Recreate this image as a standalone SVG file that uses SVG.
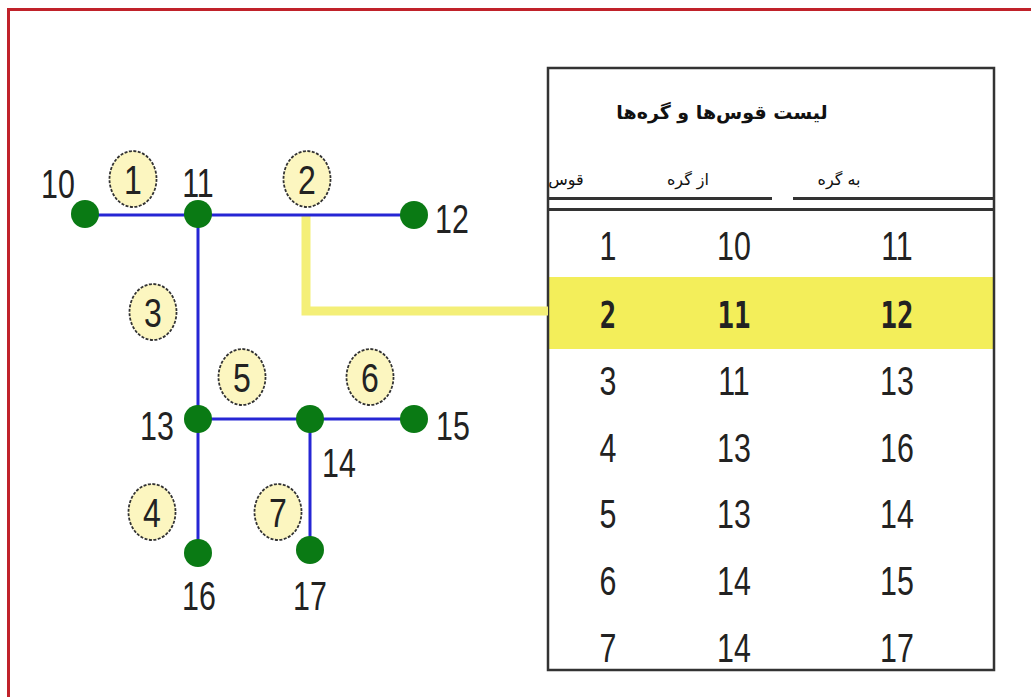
<svg xmlns="http://www.w3.org/2000/svg" width="1031" height="697" viewBox="0 0 1031 697">
<style>
.edge{stroke:#2626d4;stroke-width:3;fill:none}
.node{fill:#0a7a14}
.lbl{font-family:"Liberation Sans",Arial,sans-serif;font-size:40px;fill:#222;text-anchor:middle}
.badge{fill:#fcf6c0;stroke:#333;stroke-width:1.8;stroke-dasharray:3 1.5}
.bnum{font-family:"Liberation Sans",Arial,sans-serif;font-size:40px;fill:#222;text-anchor:middle}
.cell{font-family:"Liberation Sans",Arial,sans-serif;font-size:40px;fill:#222;text-anchor:middle}
.hl{font-family:"DejaVu Sans Mono","Liberation Mono",monospace;font-size:38px;font-weight:bold;fill:#222;text-anchor:middle}
.fa{font-family:"DejaVu Sans","Noto Sans",sans-serif;fill:#111;text-anchor:middle}
</style>
<rect width="1031" height="697" fill="#fff"/>
<path d="M8.5,697 V9.5 H1031" fill="none" stroke="#c0222a" stroke-width="3"/>

<g id="table">
<rect x="548" y="277" width="446" height="72" fill="#f3ee5a"/>
<rect x="548" y="68" width="446" height="602" fill="none" stroke="#333" stroke-width="2.5"/>
<text class="fa" x="722" y="119" font-size="19" font-weight="bold">لیست قوس‌ها و گره‌ها</text>
<text class="fa" x="566" y="185" font-size="16">قوس</text>
<text class="fa" x="688" y="185" font-size="16">از گره</text>
<text class="fa" x="839" y="185" font-size="16">به گره</text>
<path d="M548,198.5 H772 M793,198.5 H994 M548,209.5 H994" stroke="#333" stroke-width="3" fill="none"/>
<g>
<text class="cell" transform="translate(608,260) scale(0.76,1)">1</text><text class="cell" transform="translate(734,260) scale(0.76,1)">10</text><text class="cell" transform="translate(897,260) scale(0.76,1)">11</text>
<text class="hl" transform="translate(608,328) scale(0.72,1)">2</text><text class="hl" transform="translate(734,328) scale(0.72,1)">11</text><text class="hl" transform="translate(897,328) scale(0.72,1)">12</text>
<text class="cell" transform="translate(608,395) scale(0.76,1)">3</text><text class="cell" transform="translate(734,395) scale(0.76,1)">11</text><text class="cell" transform="translate(897,395) scale(0.76,1)">13</text>
<text class="cell" transform="translate(608,462) scale(0.76,1)">4</text><text class="cell" transform="translate(734,462) scale(0.76,1)">13</text><text class="cell" transform="translate(897,462) scale(0.76,1)">16</text>
<text class="cell" transform="translate(608,528) scale(0.76,1)">5</text><text class="cell" transform="translate(734,528) scale(0.76,1)">13</text><text class="cell" transform="translate(897,528) scale(0.76,1)">14</text>
<text class="cell" transform="translate(608,595) scale(0.76,1)">6</text><text class="cell" transform="translate(734,595) scale(0.76,1)">14</text><text class="cell" transform="translate(897,595) scale(0.76,1)">15</text>
<text class="cell" transform="translate(608,662) scale(0.76,1)">7</text><text class="cell" transform="translate(734,662) scale(0.76,1)">14</text><text class="cell" transform="translate(897,662) scale(0.76,1)">17</text>
</g>
</g>

<g id="connectors">
<path d="M306,216 V311 H548" fill="none" stroke="#f4ef78" stroke-width="9"/>
<path class="edge" d="M85,215 H414"/>
<path class="edge" d="M198,215 V553"/>
<path class="edge" d="M198,419 H414"/>
<path class="edge" d="M310,419 V550"/>
</g>

<g id="n10"><circle class="node" cx="85" cy="214" r="14"/><text class="lbl" transform="translate(58,198) scale(0.76,1)">10</text></g>
<g id="n11"><circle class="node" cx="198" cy="214" r="14"/><text class="lbl" transform="translate(198,197) scale(0.76,1)">11</text></g>
<g id="n12"><circle class="node" cx="414" cy="215" r="14"/><text class="lbl" transform="translate(452,233) scale(0.76,1)">12</text></g>
<g id="n13"><circle class="node" cx="198" cy="419" r="14"/><text class="lbl" transform="translate(157,440) scale(0.76,1)">13</text></g>
<g id="n14"><circle class="node" cx="310" cy="419" r="14"/><text class="lbl" transform="translate(339,477) scale(0.76,1)">14</text></g>
<g id="n15"><circle class="node" cx="414" cy="419" r="14"/><text class="lbl" transform="translate(453,440) scale(0.76,1)">15</text></g>
<g id="n16"><circle class="node" cx="198" cy="553" r="14"/><text class="lbl" transform="translate(199,610) scale(0.76,1)">16</text></g>
<g id="n17"><circle class="node" cx="310" cy="550" r="14"/><text class="lbl" transform="translate(310,610) scale(0.76,1)">17</text></g>

<g id="b1"><ellipse class="badge" cx="133" cy="179" rx="23.5" ry="28"/><text class="bnum" transform="translate(133,194) scale(0.8,1)">1</text></g>
<g id="b2"><ellipse class="badge" cx="307" cy="179" rx="23.5" ry="28"/><text class="bnum" transform="translate(307,194) scale(0.8,1)">2</text></g>
<g id="b3"><ellipse class="badge" cx="153" cy="312" rx="23.5" ry="28"/><text class="bnum" transform="translate(153,327) scale(0.8,1)">3</text></g>
<g id="b4"><ellipse class="badge" cx="152" cy="512" rx="23.5" ry="28"/><text class="bnum" transform="translate(152,527) scale(0.8,1)">4</text></g>
<g id="b5"><ellipse class="badge" cx="242" cy="377" rx="23.5" ry="28"/><text class="bnum" transform="translate(242,392) scale(0.8,1)">5</text></g>
<g id="b6"><ellipse class="badge" cx="370" cy="377" rx="23.5" ry="28"/><text class="bnum" transform="translate(370,392) scale(0.8,1)">6</text></g>
<g id="b7"><ellipse class="badge" cx="278" cy="512" rx="23.5" ry="28"/><text class="bnum" transform="translate(278,527) scale(0.8,1)">7</text></g>
</svg>
